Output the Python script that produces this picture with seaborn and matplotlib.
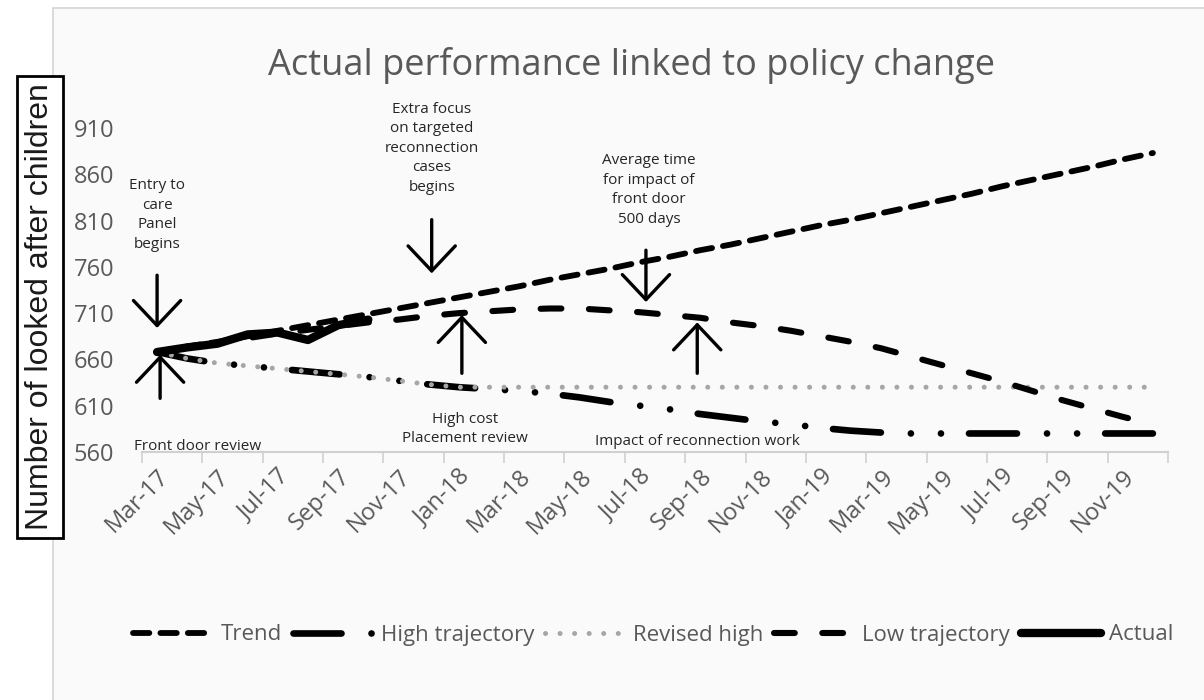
import matplotlib
matplotlib.use('Agg')
import numpy as np
import pandas as pd
import matplotlib.pyplot as plt
from matplotlib.patches import Rectangle
from matplotlib import font_manager
import seaborn as sns

# data
months = ['Mar-17', 'Apr-17', 'May-17', 'Jun-17', 'Jul-17', 'Aug-17', 'Sep-17', 'Oct-17',
          'Nov-17', 'Dec-17', 'Jan-18', 'Feb-18', 'Mar-18', 'Apr-18', 'May-18', 'Jun-18',
          'Jul-18', 'Aug-18', 'Sep-18', 'Oct-18', 'Nov-18', 'Dec-18', 'Jan-19', 'Feb-19',
          'Mar-19', 'Apr-19', 'May-19', 'Jun-19', 'Jul-19', 'Aug-19', 'Sep-19', 'Oct-19',
          'Nov-19', 'Dec-19']
trend = [668, 674, 679, 685, 691, 697, 703, 709, 715, 721, 727, 733, 739, 746, 752, 758, 765,
         771, 778, 784, 791, 798, 805, 811, 818, 825, 832, 839, 847, 854, 861, 868, 876, 883]
high_trajectory = [668, 661, 656, 653, 650, 647, 644, 641, 637, 633, 630, 628, 626, 623, 619,
                   614, 610, 606, 601, 597, 593, 590, 586, 583, 581, 580, 580, 580, 580, 580,
                   580, 580, 580, 580]
revised_high = [668, 661, 656, 653, 650, 647, 644, 641, 637, 633, 630, 630, 630, 630, 630,
                630, 630, 630, 630, 630, 630, 630, 630, 630, 630, 630, 630, 630, 630, 630,
                630, 630, 630, 630]
low_trajectory = [668, 673, 678, 683, 688, 692, 696, 700, 703, 707, 710, 712, 714, 715, 715,
                  713, 711, 708, 705, 700, 696, 691, 685, 679, 672, 663, 654, 645, 636, 626,
                  616, 607, 598, 590]
actual = [668, 673, 677, 687, 689, 681, 697, 703]
y_ticks = [560, 610, 660, 710, 760, 810, 860, 910]

df = pd.DataFrame({'month': months, 'Trend': trend, 'High trajectory': high_trajectory,
                   'Revised high': revised_high, 'Low trajectory': low_trajectory})
df['pos'] = np.arange(len(df))
df_actual = df.iloc[:len(actual)].copy()
df_actual['Actual'] = actual

sns.set_theme(style='white')
plt.rcParams['font.family'] = ['Open Sans', 'DejaVu Sans']

avail = {f.name for f in font_manager.fontManager.ttflist}
label_font = 'Liberation Sans Narrow' if 'Liberation Sans Narrow' in avail else 'Liberation Sans'

W, H = 1204, 700
fig = plt.figure(figsize=(W / 100, H / 100), dpi=100)
fig.patch.set_facecolor('white')
fig.patches.append(Rectangle((53 / W, -0.05), 1.0, 1.05 - 8 / H, transform=fig.transFigure,
                             fc='#fafafa', ec='#d4d4d4', lw=1.2, zorder=-1))

ax = fig.add_axes([142 / W, 1 - 452 / H, (1168 - 142) / W, (452 - 128) / H])
ax.patch.set_alpha(0)
ax.set_zorder(2)

grey = '#595959'
styles = {
    'Trend': dict(color='black', lw=4.2, ls=(0, (2.8, 1.9))),
    'High trajectory': dict(color='black', lw=4.8, ls=(0, (7.2, 4.5, 0.01, 4.5, 0.01, 4.2))),
    'Revised high': dict(color='#a6a6a6', lw=3.6, ls=(0, (0.01, 2.9))),
    'Low trajectory': dict(color='black', lw=4.4, ls=(0, (3.4, 4.5))),
}
for name, st in styles.items():
    sns.lineplot(data=df, x='pos', y=name, ax=ax, color=st['color'], lw=st['lw'],
                 linestyle=st['ls'], dash_capstyle='round', label=name)
sns.lineplot(data=df_actual, x='pos', y='Actual', ax=ax, color='black', lw=6,
             solid_capstyle='round', solid_joinstyle='round', label='Actual')

ax.set_xlim(-0.5, len(months) - 0.5)
ax.set_ylim(y_ticks[0], y_ticks[-1])
ax.set_yticks(y_ticks)
ax.set_xticks(df['pos'][::2])
ax.set_xticklabels(months[::2], rotation=45, ha='right', va='top', rotation_mode='anchor')
ax.set_xticks(np.arange(-0.5, len(months), 2), minor=True)
ax.tick_params(axis='x', which='major', length=0, pad=9, labelsize=17, labelcolor=grey)
ax.tick_params(axis='x', which='minor', length=8, width=1.2, color='#d0d0d0', direction='out',
               bottom=True)
ax.tick_params(axis='y', length=0, pad=20, labelsize=17, labelcolor=grey)
ax.set_xlabel('')
ax.set_ylabel('')
for s in ['top', 'right', 'left']:
    ax.spines[s].set_visible(False)
ax.spines['bottom'].set_color('#d0d0d0')
ax.spines['bottom'].set_linewidth(1.5)

# annotations: text position, arrow tail, arrow tip
notes = [
    ('Entry to\ncare\nPanel\nbegins', (0, 816), (0, 751), (0, 694)),
    ('Front door review', (1.35, 566), (0.1, 618), (0.1, 665)),
    ('Extra focus\non targeted\nreconnection\ncases\nbegins', (9.1, 888), (9.1, 811), (9.1, 753)),
    ('High cost\nPlacement review', (10.2, 585), (10.1, 645), (10.1, 708)),
    ('Average time\nfor impact of\nfront door\n500 days', (16.3, 843), (16.2, 778), (16.2, 722)),
    ('Impact of reconnection work', (17.9, 571), (17.9, 645), (17.9, 700)),
]
for txt, tpos, tail, tip in notes:
    ax.text(tpos[0], tpos[1], txt, ha='center', va='center', fontsize=11, color='#262626',
            linespacing=1.4, clip_on=False)
    ax.annotate('', xy=tip, xytext=tail,
                arrowprops=dict(arrowstyle='->,head_length=0.9,head_width=0.85', lw=2.4,
                                color='black', mutation_scale=20, shrinkA=0, shrinkB=0))

fig.text(632 / W, 1 - 65 / H, 'Actual performance linked to policy change', ha='center',
         va='center', fontsize=26, color=grey)

fig.text(40 / W, 1 - 307 / H, 'Number of looked after children', rotation=90, ha='center',
         va='center', fontsize=23, color='#1a1a1a', family=label_font,
         bbox=dict(boxstyle='square,pad=0.25', fc='white', ec='black', lw=2))

handles, labels = ax.get_legend_handles_labels()
ax.get_legend().remove()
fig.legend(handles, labels, loc='center', bbox_to_anchor=(653 / W, 1 - 635 / H), ncol=5,
           frameon=False, fontsize=16, handlelength=3.6, handletextpad=0.35,
           columnspacing=0.5, labelcolor=grey)

fig.savefig('out.png', dpi=100)
